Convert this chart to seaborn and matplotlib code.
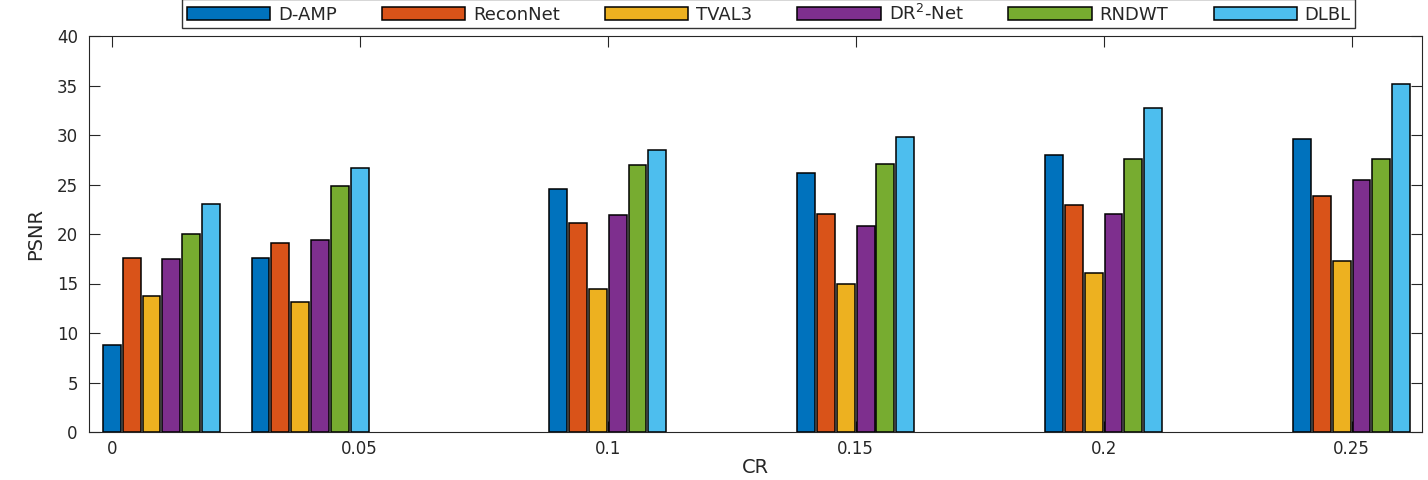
import pandas as pd
import seaborn as sns
import matplotlib
matplotlib.use('Agg')
import matplotlib.pyplot as plt

# данные
cr = [0.01, 0.04, 0.1, 0.15, 0.2, 0.25]
methods = ['D-AMP', 'ReconNet', 'TVAL3', 'DR$^2$-Net', 'RNDWT', 'DLBL']
d_amp = [8.8, 17.6, 24.5, 26.2, 28.0, 29.6]
reconnet = [17.6, 19.1, 21.1, 22.0, 22.9, 23.8]
tval3 = [13.7, 13.1, 14.4, 14.9, 16.1, 17.3]
dr2net = [17.5, 19.4, 21.9, 20.8, 22.0, 25.5]
rndwt = [20.0, 24.8, 27.0, 27.1, 27.6, 27.6]
dlbl = [23.0, 26.7, 28.5, 29.8, 32.7, 35.2]
xticks = [0, 0.05, 0.1, 0.15, 0.2, 0.25]
xticklabels = ['0', '0.05', '0.1', '0.15', '0.2', '0.25']

colors = ['#0072BD', '#D95319', '#EDB120', '#7E2F8E', '#77AC30', '#4DBEEE']

rows = []
for m, vals in zip(methods, [d_amp, reconnet, tval3, dr2net, rndwt, dlbl]):
    for c, v in zip(cr, vals):
        rows.append({'CR': c, 'PSNR': v, 'method': m})
df = pd.DataFrame(rows)

sns.set_style('ticks')
plt.rcParams['font.family'] = ['DejaVu Sans']
plt.rcParams['xtick.direction'] = 'in'
plt.rcParams['ytick.direction'] = 'in'

fig = plt.figure(figsize=(14.28, 4.8), dpi=100)
ax = fig.add_axes([0.0623, 0.1, 0.9335, 0.825])

sns.barplot(data=df, x='CR', y='PSNR', hue='method', hue_order=methods,
            palette=colors, saturation=1, native_scale=True, gap=0.1,
            edgecolor='black', linewidth=1.1, ax=ax)

ax.set_xlim(-0.0046, 0.2642)
ax.set_ylim(0, 40)
ax.set_yticks(range(0, 41, 5))
ax.set_xticks(xticks)
ax.set_xticklabels(xticklabels)
ax.tick_params(top=True, right=True, length=8, width=0.8,
               colors='#262626', labelsize=12)
ax.tick_params(axis='x', pad=6)
ax.tick_params(axis='y', pad=8)
for s in ax.spines.values():
    s.set_visible(True)
    s.set_color('#262626')
    s.set_linewidth(0.8)

ax.set_xlabel('CR', fontsize=14, color='#262626', labelpad=0)
ax.set_ylabel('PSNR', fontsize=14, color='#262626', labelpad=8)

ax.legend(loc='lower center', bbox_to_anchor=(0.51, 1.02), ncol=6,
          fontsize=13, frameon=True, fancybox=False, edgecolor='black',
          handlelength=4.6, handleheight=0.75, columnspacing=2.5,
          handletextpad=0.45, borderpad=0.25, borderaxespad=0)

fig.savefig('out.png', dpi=100)
